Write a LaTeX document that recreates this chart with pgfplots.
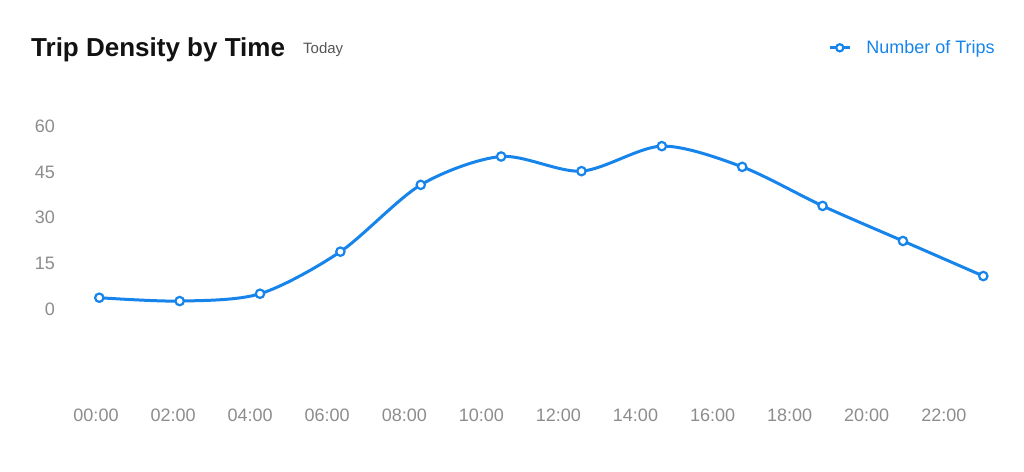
\documentclass[border=0pt]{standalone}
\usepackage{pgfplots}
\pgfplotsset{compat=1.18}
\usepackage{fontspec}
\setmainfont{Liberation Sans}
\definecolor{tripblue}{RGB}{22,132,235}
\definecolor{tickgray}{RGB}{140,140,140}
\definecolor{subgray}{RGB}{85,85,85}
\begin{document}
\begin{tikzpicture}[x=1pt,y=1pt]
\path[use as bounding box] (0,0) rectangle (1024,471);
\node[anchor=base west, inner sep=0pt, font=\fontsize{26}{30}\selectfont\bfseries, text=black!93] at (31,414.3) {Trip Density by Time};
\node[anchor=base west, inner sep=0pt, font=\fontsize{15}{18}\selectfont, text=subgray] at (303,417.7) {Today};
\begin{axis}[
  at={(95.28pt,70.5pt)}, anchor=south west,
  scale only axis, width=888.02pt, height=280.6pt,
  xmin=-0.05, xmax=11, ymin=-30, ymax=62,
  clip=false,
  axis line style={draw=none},
  major tick length=0pt,
  ytick={0,15,30,45,60},
  yticklabels={0,15,30,45,60},
  xtick={-0.041,0.918,1.877,2.836,3.795,4.754,5.713,6.672,7.631,8.590,9.549,10.508},
  xticklabels={00:00,02:00,04:00,06:00,08:00,10:00,12:00,14:00,16:00,18:00,20:00,22:00},
  tick label style={font=\fontsize{18}{21}\selectfont, text=tickgray, inner sep=0pt},
  yticklabel style={anchor=base east, xshift=-40.3pt, yshift=-6.4pt},
  xticklabel style={anchor=base, yshift=-21.2pt},
  legend style={at={(1.013,1.257)}, anchor=east, draw=none, fill=none, inner sep=0pt,
    font=\fontsize{18}{21}\selectfont, text=tripblue, nodes={inner sep=0pt}},
  legend image code/.code={
    \draw[tripblue, line width=3pt] (2pt,0pt) -- (22pt,0pt);
    \draw[tripblue, line width=2.2pt, fill=white] (12pt,0pt) circle (3.6pt);
  },
  legend cell align=left,
  /tikz/every odd column/.append style={column sep=15pt},
]
\addplot[tripblue, line width=3pt, smooth, tension=0.5, mark=*,
  mark options={fill=white, draw=tripblue, line width=2.2pt}, mark size=4.2pt]
  coordinates {
  (0,3.7) (1,2.6) (2,5.0) (3,18.8) (4,40.7) (5,50.0)
  (6,45.2) (7,53.4) (8,46.6) (9,33.8) (10,22.3) (11,10.8)
  };
\addlegendentry{Number of Trips}
\end{axis}
\end{tikzpicture}
\end{document}
